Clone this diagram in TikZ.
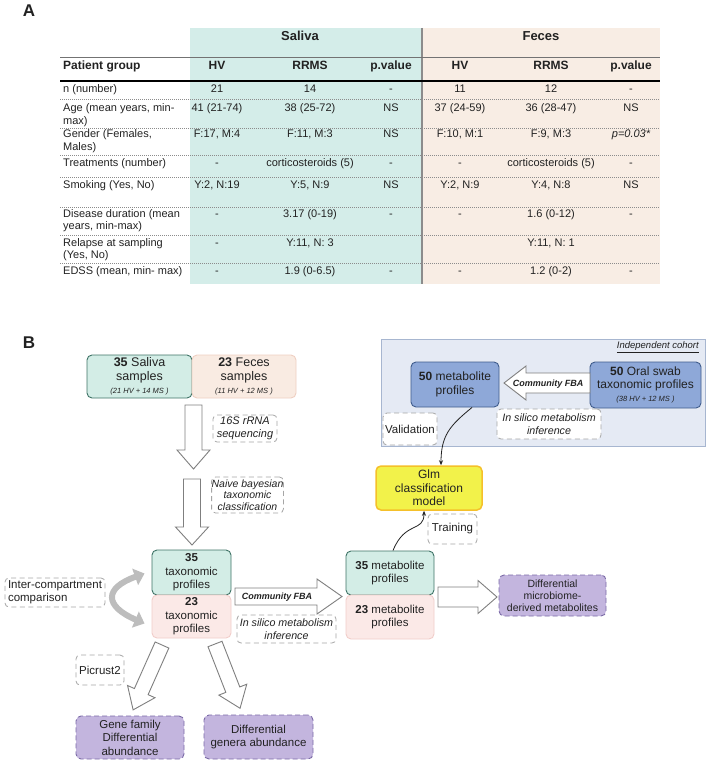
\documentclass[tikz,border=0pt]{standalone}
\usepackage{fontspec}
\setmainfont{Liberation Sans}
\usetikzlibrary{arrows.meta}
\definecolor{salbg}{HTML}{D4EDE9}
\definecolor{fecbg}{HTML}{F8EDE4}
\definecolor{tealF}{HTML}{D3EDE6}
\definecolor{tealD}{HTML}{3E7366}
\definecolor{pinkF}{HTML}{FBE9E7}
\definecolor{pinkD}{HTML}{F1CDCA}
\definecolor{peachF}{HTML}{F9EBE2}
\definecolor{peachD}{HTML}{EFCFC2}
\definecolor{purpF}{HTML}{C3B5DE}
\definecolor{purpD}{HTML}{7A6AA6}
\definecolor{blueF}{HTML}{8EA8D8}
\definecolor{blueD}{HTML}{3F5C8C}
\definecolor{panelF}{HTML}{E5EAF4}
\definecolor{panelD}{HTML}{A7B6D0}
\definecolor{yelF}{HTML}{F2F24A}
\definecolor{yelD}{HTML}{F5C02A}
\definecolor{txt}{HTML}{222222}
\definecolor{arrg}{HTML}{BDBDBD}
\definecolor{blkD}{HTML}{7F7F7F}
\newcommand\fs[2]{\fontsize{#1}{#2}\selectfont}
\newcommand\twol[2]{\vtop{\hbox{\strut #1}\hbox{\strut #2}}}
\newcommand\trow[9]{%
\node[tlab] (#1l) at (63,#2) {#3};
\node[tval] (#1a) at (217,#2) {#4};
\node[tval] (#1b) at (310,#2) {#5};
\node[tval] (#1c) at (391,#2) {#6};
\node[tval] (#1d) at (460,#2) {#7};
\node[tval] (#1e) at (551,#2) {#8};
\node[tval] (#1f) at (631,#2) {#9};}
\newcommand\blockarr[6]{\begin{scope}[shift={#1},rotate=#2]
\filldraw[blk] (0,#4) -- ({#3-#6},#4) -- ({#3-#6},#5) -- (#3,0) -- ({#3-#6},-#5) -- ({#3-#6},-#4) -- (0,-#4) -- cycle;\end{scope}}
\begin{document}
\begin{tikzpicture}[x=1pt,y=-1pt,
  tlab/.style={anchor=base west,inner sep=0,font=\fs{11}{12.5},text=txt},
  tval/.style={anchor=base,inner sep=0,font=\fs{11}{12.5},text=txt},
  thdr/.style={anchor=base,inner sep=0,font=\fs{12}{14}\bfseries,text=txt},
  box/.style={rounded corners=5pt,line width=0.9pt,align=center,inner sep=0,font=\fs{11.5}{13.5},text=txt},
  teal/.style={box,fill=tealF,draw=tealD},
  pink/.style={box,fill=pinkF,draw=pinkD},
  peach/.style={box,fill=peachF,draw=peachD},
  purp/.style={box,fill=purpF,draw=purpD,dash pattern=on 5pt off 3pt},
  blue/.style={box,fill=blueF,draw=blueD},
  lbl/.style={rounded corners=4pt,draw=black!35,line width=0.8pt,dash pattern=on 5pt off 3.5pt,fill=white,align=center,inner sep=0,font=\fs{11}{13},text=txt},
  blk/.style={fill=white,draw=blkD,line width=0.9pt,line join=miter},
  thinarr/.style={-{Stealth[length=5pt,width=4pt]},line width=0.8pt,draw=txt},
  panel/.style={rectangle,fill=panelF,draw=panelD,line width=1pt,inner sep=0}]
\useasboundingbox (0,0) rectangle (708,762);
% ---------------- Panel A ----------------
\node[font=\fs{17}{20}\bfseries,text=txt] (labA) at (29,11) {A};
\fill[salbg] (190,28) rectangle (422,284);
\fill[fecbg] (422,28) rectangle (660,284);
\draw[black!45,line width=1.2pt] (422,28) -- (422,284);
\node[font=\fs{13}{15}\bfseries,text=txt] (hsal) at (300,36) {Saliva};
\node[font=\fs{13}{15}\bfseries,text=txt] (hfec) at (541,36) {Feces};
\draw[black!55,line width=0.7pt] (60,57) -- (660,57);
\draw[black,line width=1.6pt] (60,81) -- (660,81);
\foreach \yy in {99,128,155,177,207,235,263}
  \draw[black!45,line width=0.6pt,dash pattern=on 1pt off 1pt] (60,\yy) -- (660,\yy);
\node[thdr,anchor=base west] (hpg) at (63,70) {Patient group};
\node[thdr] (h1) at (217,70) {HV};
\node[thdr] (h2) at (310,70) {RRMS};
\node[thdr] (h3) at (391,70) {p.value};
\node[thdr] (h4) at (460,70) {HV};
\node[thdr] (h5) at (551,70) {RRMS};
\node[thdr] (h6) at (631,70) {p.value};
\trow{ra}{93}{n (number)}{21}{14}{-}{11}{12}{-}
\trow{rb}{112}{\twol{Age (mean years, min-}{max)}}{41 (21-74)}{38 (25-72)}{NS}{37 (24-59)}{36 (28-47)}{NS}
\trow{rc}{138}{\twol{Gender (Females,}{Males)}}{F:17, M:4}{F:11, M:3}{NS}{F:10, M:1}{F:9, M:3}{\itshape p=0.03*}
\trow{rd}{167}{Treatments (number)}{-}{corticosteroids (5)}{-}{-}{corticosteroids (5)}{-}
\trow{re}{189}{Smoking (Yes, No)}{Y:2, N:19}{Y:5, N:9}{NS}{Y:2, N:9}{Y:4, N:8}{NS}
\trow{rf}{217}{\twol{Disease duration (mean}{years, min-max)}}{-}{3.17 (0-19)}{-}{-}{1.6 (0-12)}{-}
\node[tlab] (rgl) at (63,246) {\twol{Relapse at sampling}{(Yes, No)}};
\node[tval] (rga) at (217,246) {-};
\node[tval] (rgb) at (310,246) {Y:11, N: 3};
\node[tval] (rge) at (551,246) {Y:11, N: 1};
\trow{rh}{274}{EDSS (mean, min- max)}{-}{1.9 (0-6.5)}{-}{-}{1.2 (0-2)}{-}
% ---------------- Panel B ----------------
\node[font=\fs{17}{20}\bfseries,text=txt] (labB) at (29,343) {B};
% independent cohort panel
\node[panel,minimum width=324pt,minimum height=107pt] (cohort) at (543,392.5) {};
\node[font=\fs{9.5}{11}\itshape,text=txt,anchor=east,inner sep=0] (cohlab) at (699,347) {\underline{Independent cohort}};
% sample boxes
\node[teal,minimum width=105pt,minimum height=43pt] (sal) at (139.5,376.5)
  {{\fs{12.5}{14}\textbf{35} Saliva}\\{\fs{12.5}{12}samples}\\{\fs{7.5}{9}\itshape (21 HV + 14 MS )}};
\node[peach,minimum width=104pt,minimum height=43pt] (fec) at (244,376.5)
  {{\fs{12.5}{14}\textbf{23} Feces}\\{\fs{12.5}{11}samples}\\{\fs{7.5}{8}\itshape (11 HV + 12 MS )}};
% block arrows down
\blockarr{(193.5,405)}{-90}{64}{8.5}{16.5}{19}
\blockarr{(192,479)}{-90}{66}{8.5}{16.5}{18}
\node[lbl,minimum width=64pt,minimum height=27pt,font=\fs{11}{12.5}\itshape] (l16s) at (245,428.5) {16S rRNA\\sequencing};
\node[lbl,minimum width=71pt,minimum height=36pt,font=\fs{10.5}{11.5}\itshape] (lnaive) at (247.5,495) {Naive bayesian\\taxonomic\\classification};
% taxonomic profiles
\node[teal,minimum width=79pt,minimum height=45pt] (tax35) at (191.5,572.5) {\textbf{35}\\taxonomic\\profiles};
\node[pink,minimum width=79pt,minimum height=43pt] (tax23) at (191.5,616.5) {\textbf{23}\\taxonomic\\profiles};
\node[lbl,minimum width=100pt,minimum height=29pt,align=left,font=\fs{11.5}{13}] (linter) at (55,592.5) {Inter-compartment\\comparison};
\draw[arrg,line width=6pt,{Triangle[length=10pt,width=17pt]}-{Triangle[length=10pt,width=17pt]}]
  ([xshift=-7pt,yshift=-1pt]tax35.west) .. controls (104,588) and (104,606) .. ([xshift=-7pt,yshift=-7pt]tax23.west);
% community FBA middle
\blockarr{(235,596.5)}{0}{107}{8.5}{17.5}{25}
\node[inner sep=0,font=\fs{9}{10}\bfseries\itshape,text=txt] (cfba1) at (277,597) {Community FBA};
\node[lbl,minimum width=99pt,minimum height=28pt,font=\fs{10.7}{12.5}\itshape] (lsil1) at (286.5,629) {In silico metabolism\\inference};
% metabolite profiles
\node[teal,minimum width=88pt,minimum height=44pt] (met35) at (390,573) {\textbf{35} metabolite\\profiles};
\node[pink,minimum width=88pt,minimum height=44pt] (met23) at (390,617) {\textbf{23} metabolite\\profiles};
\blockarr{(438,597)}{0}{59}{10}{16.5}{19}
\node[purp,minimum width=107pt,minimum height=41pt,font=\fs{10.5}{12}] (diffmet) at (552.5,595.5) {Differential\\microbiome-\\derived metabolites};
% diagonal arrows
\blockarr{(162,645)}{-114}{71}{7.5}{15}{20}
\blockarr{(215,644)}{-68.7}{69}{7.5}{15}{20}
\node[lbl,minimum width=48pt,minimum height=30pt,font=\fs{11.5}{13}] (lpic) at (100,670) {Picrust2};
\node[purp,minimum width=108pt,minimum height=43pt] (gene) at (130,737.5) {Gene family\\Differential\\abundance};
\node[purp,minimum width=109pt,minimum height=44pt] (genera) at (258.5,737) {Differential\\genera abundance};
% Glm and validation cohort
\node[box,fill=yelF,draw=yelD,line width=1.5pt,minimum width=106pt,minimum height=44pt,font=\fs{12}{13.5}] (glm) at (429,488) {Glm\\classification\\model};
\node[lbl,minimum width=49pt,minimum height=30pt,font=\fs{11.5}{13}] (ltrain) at (452.5,529) {Training};
\draw[thinarr] ([xshift=3pt]met35.north) .. controls +(12,-30) and +(0,22) .. ([xshift=-5pt]glm.south);
\node[blue,minimum width=88pt,minimum height=45pt,font=\fs{12}{13.5}] (met50) at (455,384.5) {\textbf{50} metabolite\\profiles};
\node[blue,minimum width=111pt,minimum height=46pt,font=\fs{12}{13}] (oral) at (645.5,385) {\textbf{50} Oral swab\\taxonomic profiles\\{\fs{7.5}{8}\itshape (38 HV + 12 MS )}};
\blockarr{(590,383)}{180}{86}{10}{17}{22}
\node[inner sep=0,font=\fs{9}{10}\bfseries\itshape,text=txt] (cfba2) at (548,384) {Community FBA};
\node[lbl,minimum width=104pt,minimum height=30pt,font=\fs{10.7}{12.5}\itshape] (lsil2) at (549,424) {In silico metabolism\\inference};
\node[lbl,minimum width=54pt,minimum height=32pt,font=\fs{11.5}{13}] (lval) at (410,429) {Validation};
\draw[thinarr] ([xshift=17pt]met50.south) .. controls +(-22,18) and +(0,-30) .. ([xshift=12pt]glm.north);
\end{tikzpicture}
\end{document}
